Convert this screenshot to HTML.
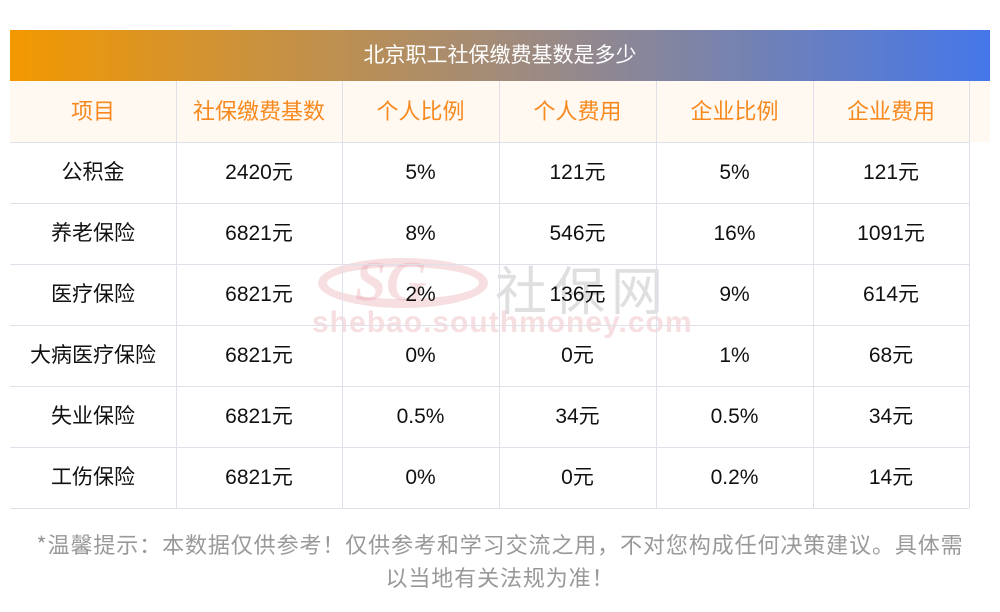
<!DOCTYPE html>
<html><head><meta charset="utf-8"><style>
body{margin:0;width:1000px;height:612px;background:#fff;font-family:"Liberation Sans","Noto Sans CJK SC",sans-serif;position:relative;overflow:hidden}
.bar{position:absolute;left:10px;top:30px;width:980px;height:51px;background:linear-gradient(90deg,#f39800,#9a8a85 55%,#4577ea);color:#fff;font-size:21px;text-align:center;line-height:51px}
.hbg{position:absolute;left:10px;top:81px;width:980px;height:61px;background:#fff9f2}
.c{position:absolute;text-align:center;font-size:21px;color:#111}
.h{color:#f7891e;font-size:22px}
.hl{position:absolute;left:10px;width:959px;height:1px;background:#dfe0ea}
.vl{position:absolute;top:81px;height:427px;width:1px;background:#dfe0ea}
.foot{position:absolute;left:0;width:1000px;text-align:center;font-size:22px;letter-spacing:0.9px;color:#999;line-height:33px;top:528px;font-family:"Noto Sans CJK SC",sans-serif}
.wm{position:absolute;pointer-events:none}
</style></head><body>
<div class="bar">北京职工社保缴费基数是多少</div>
<div class="hbg"></div>
<div class="wm" style="left:318px;top:258px;width:170px;height:50px;border:9px solid rgba(230,160,170,0.35);border-radius:50%;box-sizing:border-box"></div>
<div class="wm" style="left:355px;top:250px;font:italic bold 56px 'Liberation Serif',serif;color:rgba(230,160,170,0.35)">SG</div>
<div class="wm" style="left:495px;top:250px;font-size:52px;color:rgba(150,150,150,0.3);letter-spacing:6px">社保网</div>
<div class="wm" style="left:312px;top:306px;font-size:30px;font-weight:bold;color:rgba(230,160,170,0.35);letter-spacing:1px">shebao.southmoney.com</div>
<div class="hl" style="top:142px"></div><div class="hl" style="top:203px"></div><div class="hl" style="top:264px"></div><div class="hl" style="top:325px"></div><div class="hl" style="top:386px"></div><div class="hl" style="top:447px"></div><div class="hl" style="top:508px"></div>
<div class="vl" style="left:176px"></div><div class="vl" style="left:342px"></div><div class="vl" style="left:499px"></div><div class="vl" style="left:656px"></div><div class="vl" style="left:813px"></div><div class="vl" style="left:969px"></div>
<div id="t"></div>
<script>
var cols=[[10,176],[176,342],[342,499],[499,656],[656,813],[813,969]];
var rows=[["项目","社保缴费基数","个人比例","个人费用","企业比例","企业费用"],
["公积金","2420元","5%","121元","5%","121元"],
["养老保险","6821元","8%","546元","16%","1091元"],
["医疗保险","6821元","2%","136元","9%","614元"],
["大病医疗保险","6821元","0%","0元","1%","68元"],
["失业保险","6821元","0.5%","34元","0.5%","34元"],
["工伤保险","6821元","0%","0元","0.2%","14元"]];
var h="";
rows.forEach(function(r,i){r.forEach(function(s,j){h+='<div class="c'+(i==0?' h':'')+'" style="left:'+cols[j][0]+'px;width:'+(cols[j][1]-cols[j][0])+'px;top:'+(81+61*i)+'px;line-height:61px">'+s+'</div>';});});
document.getElementById("t").innerHTML=h;
</script>
<div class="foot">*温馨提示：本数据仅供参考！仅供参考和学习交流之用，不对您构成任何决策建议。具体需<br>以当地有关法规为准！</div>
</body></html>
